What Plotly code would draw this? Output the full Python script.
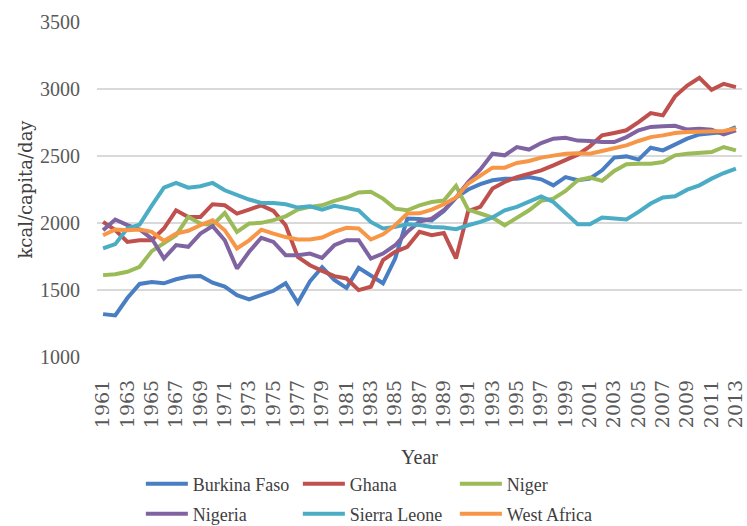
import plotly.graph_objects as go

years = list(range(1961, 2014))

burkina_faso = [1320, 1310, 1440, 1545, 1560, 1550, 1580, 1600, 1605, 1555,
                1525, 1462, 1430, 1462, 1494, 1550, 1405, 1565, 1670, 1575,
                1515, 1665, 1610, 1550, 1735, 2033, 2030, 2020, 2090, 2190,
                2250, 2290, 2319, 2331, 2331, 2343, 2326, 2281, 2343, 2320,
                2331, 2393, 2488, 2497, 2473, 2562, 2542, 2587, 2629, 2661,
                2672, 2679, 2716]

ghana = [2008, 1947, 1859, 1871, 1871, 1959, 2095, 2045, 2045, 2140,
         2132, 2070, 2100, 2132, 2090, 1983, 1747, 1685, 1643, 1603,
         1586, 1499, 1524, 1723, 1785, 1822, 1934, 1909, 1926, 1735,
         2090, 2120, 2257, 2306, 2343, 2368, 2393, 2430, 2468, 2510,
         2572, 2654, 2672, 2692, 2753, 2820, 2803, 2945, 3026, 3084,
         2994, 3039, 3014]

niger = [1611, 1618, 1636, 1673, 1790, 1852, 1909, 2045, 1996, 1984,
         2075, 1934, 1996, 2001, 2021, 2050, 2100, 2120, 2132, 2165,
         2190, 2228, 2233, 2182, 2107, 2095, 2132, 2157, 2168, 2278,
         2100, 2071, 2041, 1983, 2041, 2095, 2165, 2182, 2239, 2319,
         2339, 2314, 2388, 2438, 2443, 2443, 2455, 2505, 2517, 2522,
         2530, 2567, 2542]

nigeria = [1946, 2026, 1984, 1952, 1884, 1735, 1835, 1822, 1921, 1977,
           1871, 1660, 1785, 1890, 1859, 1760, 1760, 1772, 1740, 1834,
           1872, 1872, 1735, 1772, 1834, 1934, 2010, 2033, 2095, 2190,
           2306, 2400, 2517, 2505, 2567, 2548, 2597, 2629, 2636, 2615,
           2612, 2604, 2604, 2641, 2692, 2717, 2722, 2726, 2697, 2704,
           2697, 2661, 2692]

sierra_leone = [1810, 1842, 1960, 1988, 2130, 2264, 2299, 2264, 2274, 2299,
                2244, 2207, 2175, 2150, 2150, 2140, 2115, 2124, 2100, 2128,
                2115, 2095, 2008, 1959, 1971, 1991, 1985, 1971, 1966, 1954,
                1983, 2008, 2041, 2095, 2120, 2157, 2199, 2157, 2071, 1990,
                1991, 2041, 2033, 2026, 2083, 2145, 2190, 2199, 2249, 2281,
                2331, 2373, 2406]

west_africa = [1909, 1952, 1946, 1952, 1934, 1866, 1921, 1942, 1984, 2021,
               1946, 1810, 1871, 1950, 1921, 1895, 1877, 1877, 1892, 1934,
               1964, 1959, 1877, 1916, 1983, 2071, 2072, 2100, 2140, 2190,
               2295, 2352, 2413, 2413, 2448, 2463, 2488, 2503, 2517, 2520,
               2517, 2537, 2555, 2579, 2612, 2641, 2654, 2672, 2679, 2684,
               2687, 2687, 2704]

series = [
    ("Burkina Faso", burkina_faso, "#4A7EC2", "legend"),
    ("Ghana", ghana, "#C0504D", "legend"),
    ("Niger", niger, "#9BBB59", "legend"),
    ("Nigeria", nigeria, "#8064A2", "legend2"),
    ("Sierra Leone", sierra_leone, "#4BACC6", "legend2"),
    ("West Africa", west_africa, "#F79646", "legend2"),
]

tick_years = years[::2]
tick_text = [str(y) for y in tick_years]

HFONT = "Liberation Serif"
VFONT = "DejaVu Serif"

fig = go.Figure()
for name, vals, color, leg in series:
    fig.add_trace(go.Scatter(
        x=years, y=vals, name=name, mode="lines",
        line=dict(color=color, width=4),
        legend=leg,
    ))

legend_common = dict(
    orientation="h",
    xanchor="left",
    yanchor="middle",
    font=dict(family=HFONT, size=18, color="#404040"),
    entrywidthmode="pixels",
    entrywidth=100,
    itemwidth=42,
    bgcolor="rgba(0,0,0,0)",
    borderwidth=0,
    tracegroupgap=0,
)

fig.update_layout(
    width=747, height=526,
    margin=dict(l=97, r=5, t=22, b=169, autoexpand=False),
    paper_bgcolor="white",
    plot_bgcolor="white",
    showlegend=True,
    legend=dict(x=0.068, y=-0.379, **legend_common),
    legend2=dict(x=0.068, y=-0.4687, **legend_common),
    xaxis=dict(
        range=[1960.5, 2013.5],
        tickmode="array", tickvals=tick_years, ticktext=tick_text,
        tickangle=-90,
        tickfont=dict(family=VFONT, size=19, color="#595959"),
        showgrid=False, zeroline=False, showline=False,
        ticks="", ticklabelstandoff=18,
        title=dict(text="Year", font=dict(family=HFONT, size=20, color="#404040"), standoff=22),
        automargin=False,
    ),
    yaxis=dict(
        range=[1000, 3500], dtick=500, tick0=1000,
        tickfont=dict(family=HFONT, size=20, color="#595959"),
        showgrid=True, gridcolor="#D9D9D9", gridwidth=1.5,
        zeroline=False, showline=False,
        ticks="", ticklabelstandoff=16,
        title=dict(text="kcal/capita/day", font=dict(family=VFONT, size=18, color="#404040"), standoff=2),
        automargin=False,
    ),
)

fig.write_html("out.html", config={"displayModeBar": False},
               post_script="document.body.style.margin='0';")
